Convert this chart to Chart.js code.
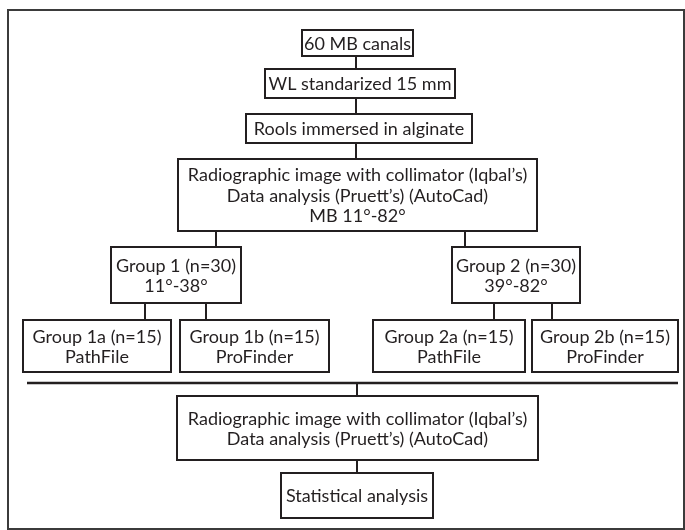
<!DOCTYPE html>
<html><head><meta charset="utf-8">
<script src="https://cdn.jsdelivr.net/npm/chart.js@4/dist/chart.umd.min.js"></script>
<style>html,body{margin:0;padding:0;background:#fff}#wrap{width:685px;height:530px}</style>
</head><body><div id="wrap"><canvas id="c" width="685" height="530"></canvas></div>
<script>
// ---- content ----
const nodeLabels = [
  ["60 MB canals"],
  ["WL standarized 15 mm"],
  ["Rools immersed in alginate"],
  ["Radiographic image with collimator (Iqbal\u2019s)", "Data analysis (Pruett\u2019s) (AutoCad)", "MB 11\u00b0-82\u00b0"],
  ["Group 1 (n=30)", "11\u00b0-38\u00b0"],
  ["Group 2 (n=30)", "39\u00b0-82\u00b0"],
  ["Group 1a (n=15)", "PathFile"],
  ["Group 1b (n=15)", "ProFinder"],
  ["Group 2a (n=15)", "PathFile"],
  ["Group 2b (n=15)", "ProFinder"],
  ["Radiographic image with collimator (Iqbal\u2019s)", "Data analysis (Pruett\u2019s) (AutoCad)"],
  ["Statistical analysis"]
];
// box extents in axis units
const boxLeft   = [302, 265, 246, 178, 111, 452,  23, 180, 373, 532, 177, 281];
const boxRight  = [413, 455, 472, 537, 241, 580, 171, 329, 525, 678, 538, 433];
const boxTop    = [ 30,  69, 114, 159, 247, 247, 320, 320, 320, 320, 396, 473];
const boxBottom = [ 56,  98, 143, 231, 303, 303, 372, 372, 372, 372, 460, 518];
// connector segments [x1, y1, x2, y2]
const connectors = [
  [356, 56, 356, 69], [356, 98, 356, 114], [356, 143, 356, 159],
  [216, 231, 216, 247], [465, 231, 465, 247],
  [145, 303, 145, 320], [206, 303, 206, 320],
  [494, 303, 494, 320], [552, 303, 552, 320],
  [357, 383, 357, 396], [357, 460, 357, 473]
];
const separator = [27, 383, 678, 383];
const frame = [8, 10, 684, 529];

const centers = nodeLabels.map((_, i) => ({x: (boxLeft[i] + boxRight[i]) / 2, y: (boxTop[i] + boxBottom[i]) / 2}));

const ink = '#231f20';
const flowPlugin = {
  id: 'flow',
  afterDatasetsDraw(chart) {
    const {ctx, scales: {x, y}} = chart;
    const px = v => x.getPixelForValue(v), py = v => y.getPixelForValue(v);
    ctx.save();
    ctx.strokeStyle = '#3b3b3b';
    ctx.lineWidth = 2;
    ctx.strokeRect(px(frame[0]), py(frame[1]), px(frame[2]) - px(frame[0]), py(frame[3]) - py(frame[1]));

    ctx.strokeStyle = ink;
    ctx.lineWidth = 2;
    connectors.forEach(c => {
      ctx.beginPath();
      ctx.moveTo(px(c[0]), py(c[1]));
      ctx.lineTo(px(c[2]), py(c[3]));
      ctx.stroke();
    });
    ctx.lineWidth = 2.5;
    ctx.beginPath();
    ctx.moveTo(px(separator[0]), py(separator[1]));
    ctx.lineTo(px(separator[2]), py(separator[3]));
    ctx.stroke();

    ctx.lineWidth = 2;
    ctx.font = '18px Lato';
    ctx.fillStyle = ink;
    ctx.textAlign = 'center';
    ctx.textBaseline = 'middle';
    const lh = 20.5;
    nodeLabels.forEach((lines, i) => {
      const l = px(boxLeft[i]), r = px(boxRight[i]), t = py(boxTop[i]), b = py(boxBottom[i]);
      ctx.fillStyle = '#fff';
      ctx.fillRect(l, t, r - l, b - t);
      ctx.strokeRect(l, t, r - l, b - t);
      ctx.fillStyle = ink;
      const cx = (l + r) / 2, cy = (t + b) / 2 + 1;
      lines.forEach((s, k) => {
        ctx.fillText(s, cx, cy + (k - (lines.length - 1) / 2) * lh);
      });
    });
    ctx.restore();
  }
};

new Chart(document.getElementById('c'), {
  type: 'scatter',
  data: {datasets: [{data: centers, pointRadius: 0, showLine: false}]},
  options: {
    responsive: false,
    animation: false,
    layout: {padding: 0},
    plugins: {legend: {display: false}, tooltip: {enabled: false}},
    scales: {
      x: {type: 'linear', min: 0, max: 685, display: false},
      y: {type: 'linear', min: 0, max: 530, reverse: true, display: false}
    }
  },
  plugins: [flowPlugin]
});
</script>
</body></html>
